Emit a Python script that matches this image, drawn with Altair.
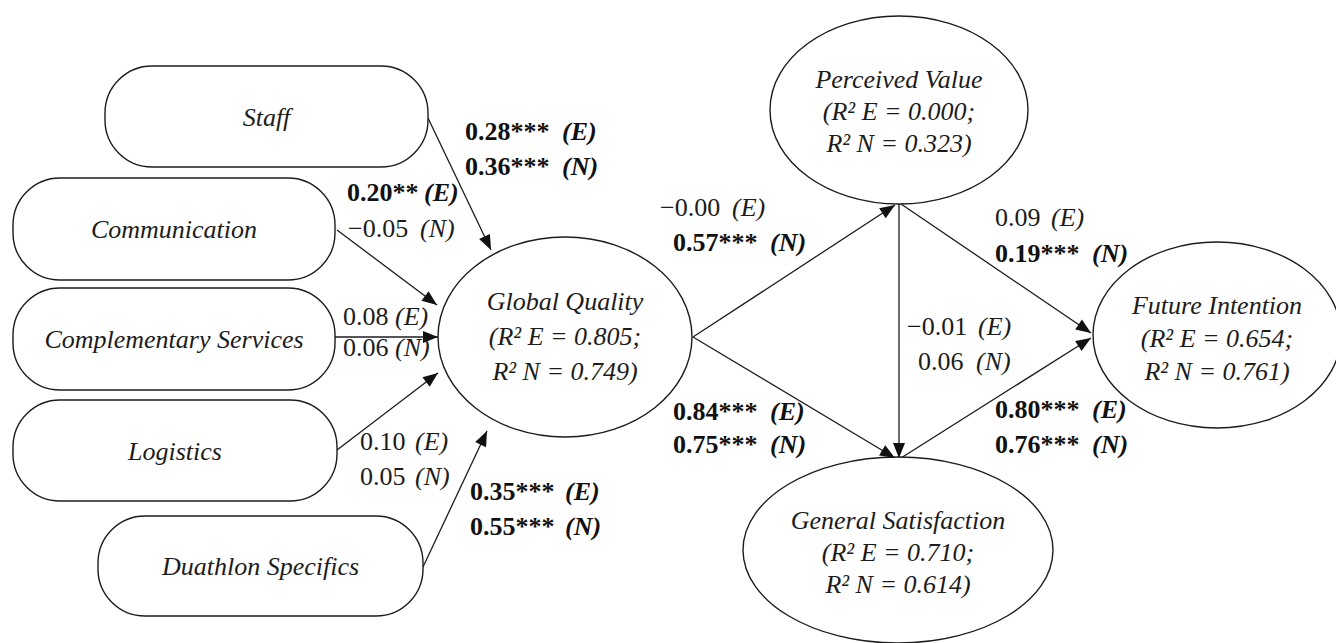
import math
import altair as alt
import pandas as pd

# ---------------- data ----------------
rect_nodes = ["Staff", "Communication", "Complementary Services", "Logistics", "Duathlon Specifics"]
ellipse_nodes = ["Global Quality", "Perceived Value", "Future Intention", "General Satisfaction"]
r2_E = ["0.805", "0.000", "0.654", "0.710"]
r2_N = ["0.749", "0.323", "0.761", "0.614"]

edge_source = ["Staff", "Communication", "Complementary Services", "Logistics", "Duathlon Specifics",
               "Global Quality", "Global Quality", "Perceived Value", "Perceived Value",
               "General Satisfaction"]
edge_target = ["Global Quality", "Global Quality", "Global Quality", "Global Quality", "Global Quality",
               "Perceived Value", "General Satisfaction", "General Satisfaction", "Future Intention",
               "Future Intention"]
coef_E = ["0.28***", "0.20**", "0.08", "0.10", "0.35***", "\u22120.00", "0.84***", "\u22120.01", "0.09", "0.80***"]
coef_N = ["0.36***", "\u22120.05", "0.06", "0.05", "0.55***", "0.57***", "0.75***", "0.06", "0.19***", "0.76***"]
footnote = "** p < 0.01; *** p < 0.001"

# ---------------- layout (pixel positions of the drawing) ----------------
rect_box = {
    "Staff": (105, 66, 428, 167),
    "Communication": (13, 178, 335, 280),
    "Complementary Services": (13, 288, 335, 390),
    "Logistics": (13, 400, 337, 501),
    "Duathlon Specifics": (98, 516, 423, 616),
}
ellipse_geom = {
    "Global Quality": (565, 337, 127, 100, [302, 337, 372]),
    "Perceived Value": (899, 110, 129, 94, [80, 112, 144]),
    "Future Intention": (1217, 335, 124, 93, [306, 339, 372]),
    "General Satisfaction": (898, 550, 155, 93, [521, 553, 585]),
}
edge_pts = [
    (428, 118, 491, 250),
    (337, 230, 437, 305),
    (335, 337, 438, 337),
    (337, 450, 438, 373),
    (423, 567, 487, 431),
    (693, 337, 895, 205),
    (693, 337, 895, 458),
    (899, 204, 899, 458),
    (901, 204, 1091, 333),
    (901, 458, 1091, 338),
]
# (num_x, tag_x, y) for E line and N line
label_pos = [
    ((465, 562, 132), (465, 562, 167)),
    ((347, 424, 193), (348, 420, 229)),
    ((343, 395, 317), (343, 395, 348)),
    ((360, 415, 442), (360, 415, 477)),
    ((470, 565, 492), (470, 565, 527)),
    ((660, 732, 208), (673, 770, 243)),
    ((673, 770, 412), (673, 770, 445)),
    ((907, 978, 327), (918, 976, 362)),
    ((995, 1051, 218), (995, 1092, 254)),
    ((995, 1092, 410), (995, 1092, 445)),
]
footnote_pos = (68, 654)

FONT = "Liberation Serif, Times New Roman, serif"
FS = 26
INK = "#1c1c1c"
ARROW = "M 0 0 L -6 15 L 6 15 Z"

# ---------------- tables ----------------
rect_df = pd.DataFrame([
    {"name": n, "x0": rect_box[n][0], "y0": rect_box[n][1], "x1": rect_box[n][2], "y1": rect_box[n][3],
     "cx": (rect_box[n][0] + rect_box[n][2]) / 2, "cy": (rect_box[n][1] + rect_box[n][3]) / 2 + 1}
    for n in rect_nodes
])

ell_rows, ell_text = [], []
for n, e, nn in zip(ellipse_nodes, r2_E, r2_N):
    cx, cy, rx, ry, lines = ellipse_geom[n]
    path = f"M {-rx} 0 A {rx} {ry} 0 1 1 {rx} 0 A {rx} {ry} 0 1 1 {-rx} 0 Z"
    ell_rows.append({"name": n, "cx": cx, "cy": cy, "path": path})
    texts = [n, f"(R\u00b2 E = {e};", f"R\u00b2 N = {nn})"]
    for t, ly in zip(texts, lines):
        ell_text.append({"t": t, "x": cx, "y": ly})
ell_df = pd.DataFrame(ell_rows)
ell_text_df = pd.DataFrame(ell_text)

edge_rows = []
for s, t, (x1, y1, x2, y2) in zip(edge_source, edge_target, edge_pts):
    ang = (math.degrees(math.atan2(x2 - x1, -(y2 - y1))) + 360) % 360
    edge_rows.append({"source": s, "target": t, "x1": x1, "y1": y1, "x2": x2, "y2": y2, "ang": ang})
edge_df = pd.DataFrame(edge_rows)

lab_rows = []
for ce, cn, (pe, pn) in zip(coef_E, coef_N, label_pos):
    for coef, tag, (nx, tx, ly) in ((ce, "(E)", pe), (cn, "(N)", pn)):
        lab_rows.append({"num": coef, "tag": tag, "nx": nx, "tx": tx, "y": ly, "bold": "*" in coef})
lab_df = pd.DataFrame(lab_rows)
bold_df = lab_df[lab_df["bold"]]
reg_df = lab_df[~lab_df["bold"]]

foot_df = pd.DataFrame([{"t": footnote, "x": footnote_pos[0], "y": footnote_pos[1]}])

# ---------------- scales ----------------
XS = alt.Scale(domain=[8, 1336], nice=False, zero=False)
YS = alt.Scale(domain=[8, 643], nice=False, zero=False, reverse=True)


def X(f):
    return alt.X(f"{f}:Q", scale=XS, axis=None)


def Y(f):
    return alt.Y(f"{f}:Q", scale=YS, axis=None)


lines = alt.Chart(edge_df).mark_rule(color=INK, strokeWidth=1.3).encode(
    x=X("x1"), y=Y("y1"), x2="x2:Q", y2="y2:Q"
)

rects = alt.Chart(rect_df).mark_rect(
    cornerRadius=47, fill="white", stroke=INK, strokeWidth=1.4
).encode(x=X("x0"), y=Y("y0"), x2="x1:Q", y2="y1:Q")

ellipses = alt.Chart(ell_df).mark_point(
    filled=True, fill="white", stroke=INK, strokeWidth=1.4, size=4, opacity=1
).encode(x=X("cx"), y=Y("cy"), shape=alt.Shape("path:N", scale=None, legend=None))

heads = alt.Chart(edge_df).mark_point(
    shape=ARROW, filled=True, color="#111111", size=4, opacity=1, strokeWidth=0
).encode(x=X("x2"), y=Y("y2"), angle=alt.Angle("ang:Q", scale=None))

rect_labels = alt.Chart(rect_df).mark_text(
    font=FONT, fontSize=FS, fontStyle="italic", align="center", baseline="middle", color=INK
).encode(x=X("cx"), y=Y("cy"), text="name:N")

ell_labels = alt.Chart(ell_text_df).mark_text(
    font=FONT, fontSize=FS, fontStyle="italic", align="center", baseline="middle", color=INK
).encode(x=X("x"), y=Y("y"), text="t:N")

num_bold = alt.Chart(bold_df).mark_text(
    font=FONT, fontSize=FS, fontWeight="bold", align="left", baseline="middle", color="#111111"
).encode(x=X("nx"), y=Y("y"), text="num:N")
tag_bold = alt.Chart(bold_df).mark_text(
    font=FONT, fontSize=FS, fontWeight="bold", fontStyle="italic", align="left", baseline="middle",
    color="#111111"
).encode(x=X("tx"), y=Y("y"), text="tag:N")
num_reg = alt.Chart(reg_df).mark_text(
    font=FONT, fontSize=FS, align="left", baseline="middle", color=INK
).encode(x=X("nx"), y=Y("y"), text="num:N")
tag_reg = alt.Chart(reg_df).mark_text(
    font=FONT, fontSize=FS, fontStyle="italic", align="left", baseline="middle", color=INK
).encode(x=X("tx"), y=Y("y"), text="tag:N")

foot = alt.Chart(foot_df).mark_text(
    font=FONT, fontSize=FS, align="left", baseline="middle", color=INK
).encode(x=X("x"), y=Y("y"), text="t:N")

chart = alt.layer(
    lines, rects, ellipses, heads, rect_labels, ell_labels,
    num_bold, tag_bold, num_reg, tag_reg, foot
).properties(
    width=1328, height=635, padding=0, autosize=alt.AutoSizeParams(type="none"), background="white"
).configure_view(stroke=None)

chart.save("out.html", embed_options={"renderer": "svg", "actions": False})
